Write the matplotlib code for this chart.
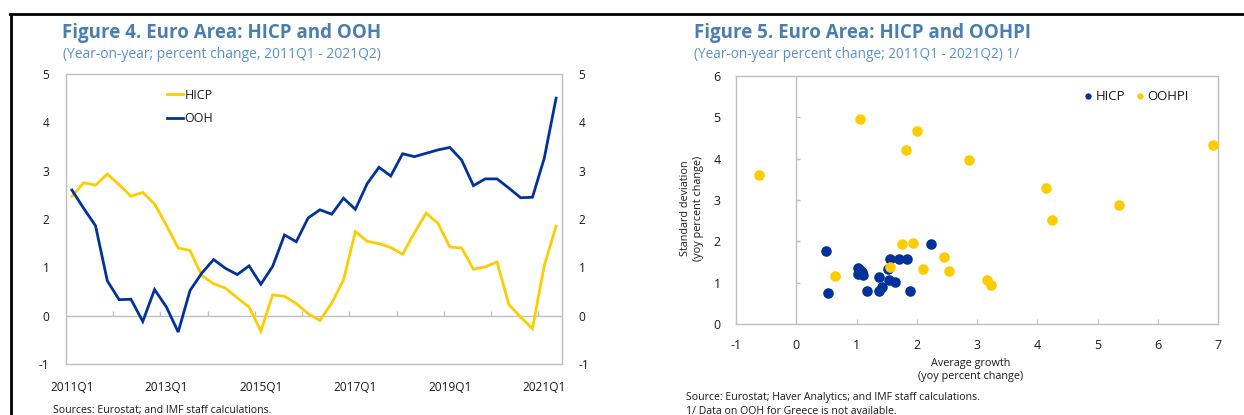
import numpy as np
import matplotlib
matplotlib.use("Agg")
import matplotlib.pyplot as plt
from matplotlib.lines import Line2D

plt.rcParams['font.family'] = ['Open Sans', 'DejaVu Sans']
plt.rcParams['axes.unicode_minus'] = False

NAVY = '#003399'
GOLD = '#FFCC00'
GRID = '#BFBFBF'
TITLE_C = '#4A7EB0'
SUB_C = '#5B8FC8'
TXT = '#1a1a1a'

# Figure 4: quarterly yoy changes, 2011Q1 - 2021Q2
quarters = [f'{y}Q{q}' for y in range(2011, 2022) for q in range(1, 5)][:42]
hicp = [2.47, 2.75, 2.70, 2.93, 2.71, 2.47, 2.55, 2.31, 1.87, 1.40,
        1.35, 0.83, 0.66, 0.57, 0.37, 0.18, -0.32, 0.43, 0.40, 0.25,
        0.04, -0.10, 0.26, 0.74, 1.74, 1.54, 1.49, 1.41, 1.27, 1.71,
        2.12, 1.91, 1.42, 1.40, 0.96, 1.01, 1.11, 0.23, -0.03, -0.27,
        1.04, 1.85]
ooh = [2.60, 2.22, 1.86, 0.72, 0.33, 0.34, -0.12, 0.54, 0.18, -0.34,
       0.52, 0.88, 1.16, 0.98, 0.85, 1.03, 0.65, 1.02, 1.67, 1.53,
       2.02, 2.19, 2.10, 2.43, 2.20, 2.73, 3.07, 2.89, 3.35, 3.29,
       3.36, 3.43, 3.48, 3.22, 2.69, 2.83, 2.83, 2.64, 2.44, 2.45,
       3.26, 4.50]
shown_labels = ['2011Q1', '2013Q1', '2015Q1', '2017Q1', '2019Q1', '2021Q1']

# Figure 5: country averages vs. standard deviations
hicp_avg = [0.49, 0.52, 1.03, 1.09, 1.03, 1.10, 1.06, 1.17, 1.38, 1.38,
            1.43, 1.53, 1.56, 1.54, 1.64, 1.70, 1.84, 1.88, 2.24]
hicp_sd = [1.76, 0.76, 1.35, 1.27, 1.20, 1.19, 1.30, 0.81, 1.13, 0.81,
           0.89, 1.32, 1.57, 1.07, 1.02, 1.57, 1.57, 0.81, 1.93]
oohpi_avg = [-0.61, 0.65, 1.05, 1.56, 1.76, 1.82, 1.93, 2.01, 2.10, 2.46,
             2.54, 2.87, 3.17, 3.23, 4.15, 4.25, 5.36, 6.91]
oohpi_sd = [3.61, 1.15, 4.95, 1.37, 1.94, 4.21, 1.95, 4.66, 1.34, 1.62,
            1.29, 3.97, 1.06, 0.94, 3.29, 2.51, 2.88, 4.32]

fig = plt.figure(figsize=(12.44, 4.15), dpi=100)

# frame lines
fig.add_artist(Line2D([10/1244, 1], [1-14.5/415]*2, transform=fig.transFigure,
                      color='black', lw=2))
fig.add_artist(Line2D([11/1244]*2, [0, 1-14.5/415], transform=fig.transFigure,
                      color='black', lw=2))

# ---- left panel ----
ax = fig.add_axes([66/1244, 1-364/415, 496/1244, 290/415])
x = np.arange(len(quarters))
ax.plot(x, hicp, color=GOLD, lw=2, label='HICP', solid_joinstyle='miter')
ax.plot(x, ooh, color=NAVY, lw=2, label='OOH', solid_joinstyle='miter')
ax.set_xlim(-0.5, len(quarters) - 0.5)
ax.set_ylim(-1, 5)
ax.axhline(0, color=GRID, lw=1, zorder=0)
bounds = np.arange(3.5, len(quarters) - 1, 4)
ax.vlines(bounds, 0, 0.09, color=GRID, lw=1, zorder=0)
ax.set_xticks([quarters.index(q) for q in shown_labels])
ax.set_xticklabels(shown_labels)
ax.set_yticks(range(-1, 6))
ax.tick_params(axis='both', length=0, labelsize=8.6, colors=TXT)
ax.tick_params(axis='x', pad=12)
ax.tick_params(axis='y', pad=12, labelright=True)
for s in ax.spines.values():
    s.set_color(GRID)
    s.set_linewidth(1)
leg = ax.legend(loc='center left', bbox_to_anchor=(0.2036, 0.886), frameon=False,
                fontsize=9, handlelength=1.3, handletextpad=0.1,
                borderaxespad=0, borderpad=0, labelspacing=0.85)
for t in leg.get_texts():
    t.set_color(TXT)

fig.text(62/1244, 1-33/415, 'Figure 4. Euro Area: HICP and OOH', fontsize=13.5,
         fontweight='bold', color=TITLE_C, va='center')
fig.text(63/1244, 1-55/415, '(Year-on-year; percent change, 2011Q1 - 2021Q2)',
         fontsize=10, color=SUB_C, va='center')
fig.text(53/1244, 1-410/415, 'Sources: Eurostat; and IMF staff calculations.',
         fontsize=7.6, color=TXT, va='center')

# ---- right panel ----
bx = fig.add_axes([736/1244, 1-324/415, 482/1244, 248/415])
bx.scatter(hicp_avg, hicp_sd, s=58, color=NAVY, label='HICP', zorder=3, linewidths=0)
bx.scatter(oohpi_avg, oohpi_sd, s=58, color=GOLD, label='OOHPI', zorder=4, linewidths=0)
bx.set_xlim(-1, 7)
bx.set_ylim(0, 6)
bx.axvline(0, color=GRID, lw=1, zorder=0)
bx.hlines(range(1, 6), 0, 0.07, color=GRID, lw=1, zorder=0)
bx.set_xticks(range(-1, 8))
bx.set_yticks(range(0, 7))
bx.tick_params(axis='x', direction='in', length=3.5, color=GRID, pad=11,
               labelsize=9, labelcolor=TXT)
bx.tick_params(axis='y', length=0, pad=11, labelsize=9, labelcolor=TXT)
for s in bx.spines.values():
    s.set_color(GRID)
    s.set_linewidth(1)
leg2 = bx.legend(loc='center right', bbox_to_anchor=(0.94, 0.919), ncol=2,
                 frameon=False, fontsize=9.5, handlelength=0.6, handletextpad=0.3,
                 columnspacing=0.8, borderaxespad=0, borderpad=0,
                 markerscale=0.6)
for t in leg2.get_texts():
    t.set_color(TXT)

fig.text(692/1244, 1-208/415, 'Standard deviation\n(yoy percent change)',
         rotation=90, fontsize=7.8, color=TXT, ha='center', va='center',
         multialignment='center', linespacing=1.3)
fig.text(971/1244, 1-370/415, 'Average growth\n(yoy percent change)',
         fontsize=7.8, color=TXT, ha='center', va='center',
         multialignment='center', linespacing=1.3)

fig.text(694/1244, 1-33/415, 'Figure 5. Euro Area: HICP and OOHPI', fontsize=13.5,
         fontweight='bold', color=TITLE_C, va='center')
fig.text(694/1244, 1-55/415, '(Year-on-year percent change; 2011Q1 - 2021Q2) 1/',
         fontsize=9.8, color=SUB_C, va='center')
fig.text(686/1244, 1-397/415, 'Source: Eurostat; Haver Analytics; and IMF staff calculations.',
         fontsize=7.6, color=TXT, va='center')
fig.text(686/1244, 1-411/415, '1/ Data on OOH for Greece is not available.',
         fontsize=7.6, color=TXT, va='center')

fig.savefig('out.png', dpi=100)
